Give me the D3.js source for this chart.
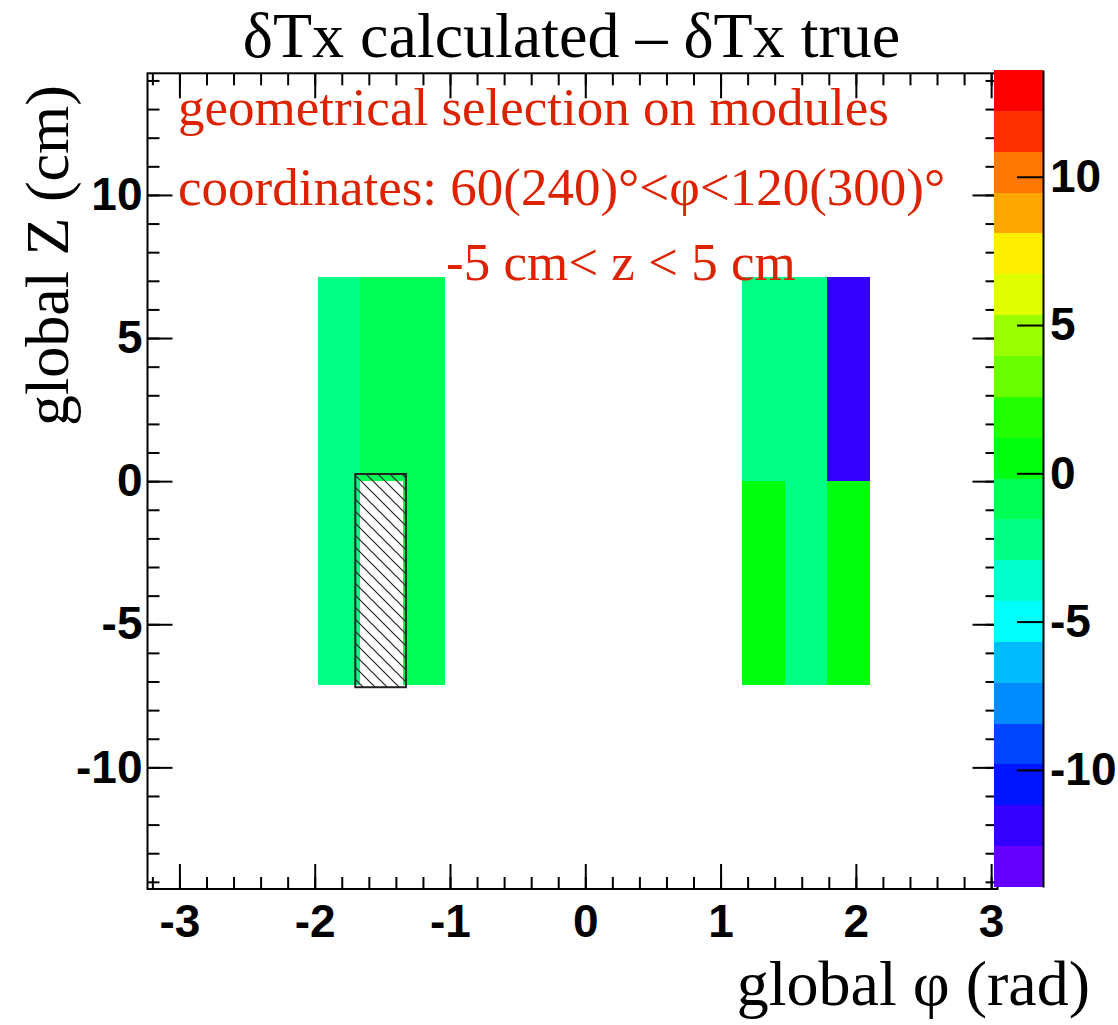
<!DOCTYPE html>
<html>
<head>
<meta charset="utf-8">
<script src="https://cdn.jsdelivr.net/npm/d3@7"></script>
<style>
  body { margin: 0; background: #fff; }
  svg { display: block; }
</style>
</head>
<body>
<div id="chart"></div>
<script>
// filled bins: centre in phi (rad), centre in z (cm), content
const cellPhi = [-1.822, -1.822, -1.508, -1.194, -1.194, 1.319, 1.319, 1.633, 1.633, 1.947, 1.947];
const cellZ   = [3.5625, -3.5625, 3.5625, 3.5625, -3.5625, 3.5625, -3.5625, 3.5625, -3.5625, 3.5625, -3.5625];
const cellVal = [-2.2, -2.2, -0.8, -0.8, -0.8, -2.2, 0.5, -2.2, -2.2, -11.8, 0.5];
const binPhi = 0.31416;
const binZ = 7.125;

// histogram ranges and tick labels
const phiRange = [-3.236, 3.047];
const zRange = [-14.25, 14.25];
const valRange = [-13.95, 13.6];
const phiTicks = [-3, -2, -1, 0, 1, 2, 3];
const zTicks = [-10, -5, 0, 5, 10];
const valTicks = [-10, -5, 0, 5, 10];
const nContours = 20;

// hatched box drawn over the dead module
const hatchPhi = [-1.70, -1.326];
const hatchZ = [-7.2, 0.25];

const titleText = 'δTx calculated – δTx true';
const noteLines = ['geometrical selection on modules', 'coordinates: 60(240)°<φ<120(300)°', '-5 cm< z < 5 cm'];

const width = 1118;
const height = 1025;
const frame = { left: 147.5, right: 997.5, top: 73.3, bottom: 889 };
const pal = { left: 994, right: 1043, top: 70, bottom: 887 };
const serif = '"Liberation Serif", "Times New Roman", serif';
const sans = '"Liberation Sans", Arial, Helvetica, sans-serif';
const red = '#dd2200';

const svg = d3.select('#chart')
  .append('svg')
  .attr('width', width)
  .attr('height', height);

const x = d3.scaleLinear().domain(phiRange).range([frame.left, frame.right]);
const y = d3.scaleLinear().domain(zRange).range([frame.bottom, frame.top]);
const yPal = d3.scaleLinear().domain(valRange).range([pal.bottom, pal.top]);

// ROOT "pretty" palette (50 hues violet -> red), sampled for 20 contours
const colors = d3.range(nContours).map((k) => {
  const ci = Math.floor((k + 0.99) * 50 / nContours);
  return d3.hsl(280 - (ci + 1) * 5.6, 1, 0.5).formatHex();
});
const color = d3.scaleQuantize().domain(valRange).range(colors);

const defs = svg.append('defs');
defs.append('pattern')
  .attr('id', 'hatch')
  .attr('patternUnits', 'userSpaceOnUse')
  .attr('width', 12)
  .attr('height', 12)
  .append('path')
  .attr('d', 'M-1,-1L13,13M-7,5L7,19M5,-7L19,7')
  .attr('stroke', '#222')
  .attr('stroke-width', 1.2);

// cells
svg.append('g')
  .selectAll('rect')
  .data(cellVal)
  .join('rect')
  .attr('x', (d, i) => x(cellPhi[i] - binPhi / 2))
  .attr('y', (d, i) => y(cellZ[i] + binZ / 2))
  .attr('width', (d, i) => x(cellPhi[i] + binPhi / 2) - x(cellPhi[i] - binPhi / 2))
  .attr('height', (d, i) => y(cellZ[i] - binZ / 2) - y(cellZ[i] + binZ / 2))
  .attr('fill', (d) => color(d))
  .attr('shape-rendering', 'crispEdges');

svg.append('rect')
  .attr('x', x(hatchPhi[0]))
  .attr('y', y(hatchZ[1]))
  .attr('width', x(hatchPhi[1]) - x(hatchPhi[0]))
  .attr('height', y(hatchZ[0]) - y(hatchZ[1]))
  .attr('fill', 'url(#hatch)')
  .attr('stroke', '#222')
  .attr('stroke-width', 2);

// axes: ticks drawn inwards on all four sides
const fmt = (d) => String(d);
const styleAxis = (g) => {
  g.select('.domain').remove();
  g.selectAll('line').attr('stroke', '#000').attr('stroke-width', 2);
  g.selectAll('text')
    .attr('fill', '#000')
    .style('font-family', sans)
    .style('font-weight', 'bold')
    .style('font-size', '46px');
};

svg.append('g').attr('transform', `translate(0,${frame.bottom})`)
  .call(d3.axisBottom(x).tickValues(x.ticks(30)).tickSize(-12).tickFormat(''))
  .call(styleAxis);
svg.append('g').attr('transform', `translate(0,${frame.bottom})`)
  .call(d3.axisBottom(x).tickValues(phiTicks).tickSize(-25).tickPadding(15).tickFormat(fmt))
  .call(styleAxis);
svg.append('g').attr('transform', `translate(0,${frame.top})`)
  .call(d3.axisTop(x).tickValues(x.ticks(30)).tickSize(-12).tickFormat(''))
  .call(styleAxis);
svg.append('g').attr('transform', `translate(0,${frame.top})`)
  .call(d3.axisTop(x).tickValues(phiTicks).tickSize(-25).tickFormat(''))
  .call(styleAxis);

svg.append('g').attr('transform', `translate(${frame.left},0)`)
  .call(d3.axisLeft(y).tickValues(y.ticks(28)).tickSize(-12).tickFormat(''))
  .call(styleAxis);
svg.append('g').attr('transform', `translate(${frame.left},0)`)
  .call(d3.axisLeft(y).tickValues(zTicks).tickSize(-25).tickPadding(5).tickFormat(fmt))
  .call(styleAxis);
svg.append('g').attr('transform', `translate(${frame.right},0)`)
  .call(d3.axisRight(y).tickValues(y.ticks(28)).tickSize(-12).tickFormat(''))
  .call(styleAxis);
svg.append('g').attr('transform', `translate(${frame.right},0)`)
  .call(d3.axisRight(y).tickValues(zTicks).tickSize(-25).tickFormat(''))
  .call(styleAxis);

svg.append('rect')
  .attr('x', frame.left)
  .attr('y', frame.top)
  .attr('width', frame.right - frame.left)
  .attr('height', frame.bottom - frame.top)
  .attr('fill', 'none')
  .attr('stroke', '#000')
  .attr('stroke-width', 2);

// colour palette
svg.append('g')
  .selectAll('rect')
  .data(colors)
  .join('rect')
  .attr('x', pal.left)
  .attr('y', (d) => yPal(color.invertExtent(d)[1]))
  .attr('width', pal.right - pal.left)
  .attr('height', (d) => yPal(color.invertExtent(d)[0]) - yPal(color.invertExtent(d)[1]))
  .attr('fill', (d) => d)
  .attr('shape-rendering', 'crispEdges');

const palAxis = svg.append('g').attr('transform', `translate(${pal.right},0)`)
  .call(d3.axisRight(yPal).tickValues(valTicks).tickSize(-26).tickSizeOuter(0).tickPadding(7).tickFormat(fmt));
palAxis.select('.domain').attr('stroke', '#000').attr('stroke-width', 2);
palAxis.selectAll('line').attr('stroke', '#000').attr('stroke-width', 2);
palAxis.selectAll('text')
  .attr('fill', '#000')
  .style('font-family', sans)
  .style('font-weight', 'bold')
  .style('font-size', '46px');

// texts
svg.append('text')
  .text(titleText)
  .attr('x', 571.5)
  .attr('y', 57)
  .attr('text-anchor', 'middle')
  .style('font-family', serif)
  .style('font-size', '64px');

const notePos = [[178, 125], [178, 205], [446, 280]];
svg.append('g')
  .selectAll('text')
  .data(noteLines)
  .join('text')
  .text((d) => d)
  .attr('x', (d, i) => notePos[i][0])
  .attr('y', (d, i) => notePos[i][1])
  .attr('fill', red)
  .style('font-family', serif)
  .style('font-size', '53px');

svg.append('text')
  .text('global Z (cm)')
  .attr('transform', 'translate(68,85) rotate(-90)')
  .attr('text-anchor', 'end')
  .style('font-family', serif)
  .style('font-size', '62px');

svg.append('text')
  .text('global φ (rad)')
  .attr('x', 1090)
  .attr('y', 1005)
  .attr('text-anchor', 'end')
  .style('font-family', serif)
  .style('font-size', '64px');
</script>
</body>
</html>
